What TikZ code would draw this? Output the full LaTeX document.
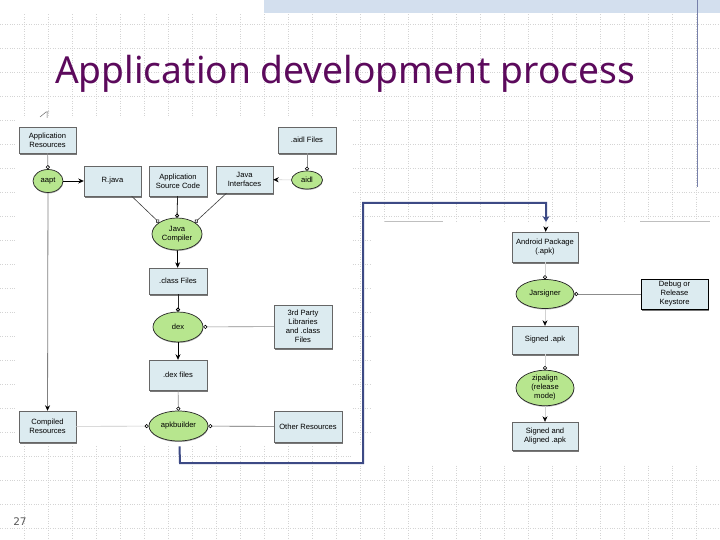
\documentclass[tikz,border=0pt]{standalone}
\usepackage{fontspec}
\setmainfont{Liberation Sans}
\newfontfamily\titlefont{Noto Sans}
\newfontfamily\pagefont{DejaVu Sans}
\usetikzlibrary{arrows.meta,shadows,shapes.geometric}
\newlength{\du}
\setlength{\du}{1pt}
\definecolor{boxfill}{HTML}{DCEBF0}
\definecolor{ovalfill}{HTML}{B7E68E}
\definecolor{titlecolor}{HTML}{5C0A5C}
\definecolor{gridcolor}{HTML}{D4D4D4}
\definecolor{bluelinecolor}{HTML}{3D4A85}
\definecolor{bandcolor}{HTML}{D3DFEE}
\tikzset{
  filebox/.style={draw=black!60,fill=boxfill,rectangle,align=center,inner sep=0pt,font=\fontsize{7.6}{9}\selectfont,
    general shadow={fill=black!75,shadow xshift=0.6pt,shadow yshift=-2pt,opacity=0.7}},
  toolnode/.style={draw=black!85,line width=0.7pt,fill=ovalfill,ellipse,align=center,inner sep=0pt,font=\fontsize{7.6}{9}\selectfont,
    general shadow={fill=black!60,shadow xshift=0.3pt,shadow yshift=-1pt,opacity=0.5}},
  feedline/.style={draw=black!45,line width=0.6pt,-{Circle[open,length=4pt,black,fill=white]}},
  makeline/.style={draw=black,line width=0.8pt,-{Stealth[length=5.5pt,width=5pt,black]}},
  fadeline/.style={draw=black!18,line width=0.6pt,-{Stealth[length=5.5pt,width=5pt,black]}}
}
\begin{document}
\begin{tikzpicture}
\pgftransformxscale{1.000000}
\pgftransformyscale{-1.000000}
\useasboundingbox (0\du,0\du) rectangle (720\du,540\du);
% background
\fill[white] (0\du,0\du) rectangle (720\du,540\du);
\foreach \gx in {24,48,...,696}
  \draw[gridcolor,dotted,line width=0.4pt] (\gx\du,0\du)--(\gx\du,540\du);
\foreach \gy in {24,48,...,528}
  \draw[gridcolor,dotted,line width=0.4pt] (0\du,\gy\du)--(720\du,\gy\du);
\fill[bandcolor] (264\du,0\du) rectangle (720\du,13\du);
\fill[white] (0\du,0\du) rectangle (264\du,13\du);
\draw[bluelinecolor!70,line width=0.7pt] (697\du,0\du)--(697\du,187\du);
% white areas of the pasted figure
\fill[white] (17\du,118\du) rectangle (352\du,445\du);
\fill[white] (372\du,222\du) rectangle (720\du,465\du);
\fill[white] (352\du,445\du) rectangle (372\du,465\du);
\draw[black!25,line width=0.8pt] (385\du,221.5\du)--(443\du,221.5\du);
\draw[black!25,line width=0.8pt] (640\du,221.5\du)--(710\du,221.5\du);
\draw[black!60,line width=0.5pt] (40\du,117\du)--(46\du,112\du)--(49\du,112\du) (47\du,112\du)--(47\du,118\du);
% title
\node[titlecolor,font=\titlefont\fontsize{37.2}{44}\selectfont,anchor=base west,inner sep=0pt] (title) at (55\du,84\du){Application development process};
\node[black!65,font=\pagefont\fontsize{10.5}{13}\selectfont] (pagenum) at (20\du,522\du){27};
% left column
\node[filebox,minimum width=57\du,minimum height=26\du] (appres) at (47.5\du,140\du){Application\\Resources};
\node[filebox,minimum width=58\du,minimum height=26\du] (aidlfiles) at (307\du,140\du){.aidl Files};
\node[toolnode,minimum width=30\du,minimum height=23\du] (aapt) at (48\du,181\du){aapt};
\node[filebox,minimum width=57\du,minimum height=30\du] (rjava) at (112.5\du,181\du){R.java};
\node[filebox,minimum width=58\du,minimum height=30\du] (appsrc) at (178\du,181\du){Application\\Source Code};
\node[filebox,minimum width=57\du,minimum height=27\du] (javaif) at (244.5\du,179.5\du){Java\\Interfaces};
\node[toolnode,minimum width=31\du,minimum height=18\du] (aidl) at (307\du,180\du){aidl};
\node[toolnode,minimum width=50\du,minimum height=32\du] (javac) at (177\du,234\du){Java\\Compiler};
\node[filebox,minimum width=58\du,minimum height=26\du] (classfiles) at (178\du,281\du){.class Files};
\node[toolnode,minimum width=50\du,minimum height=30\du] (dex) at (178\du,327\du){dex};
\node[filebox,minimum width=58\du,minimum height=43\du] (thirdparty) at (303\du,326.5\du){3rd Party\\Libraries\\and .class\\Files};
\node[filebox,minimum width=58\du,minimum height=30\du] (dexfiles) at (178\du,375\du){.dex files};
\node[toolnode,minimum width=59\du,minimum height=30\du] (apkbuilder) at (178.5\du,426\du){apkbuilder};
\node[filebox,minimum width=57\du,minimum height=31\du] (compiled) at (47.5\du,426.5\du){Compiled\\Resources};
\node[filebox,minimum width=68\du,minimum height=31\du] (otherres) at (308\du,426.5\du){Other Resources};
% right column
\node[filebox,minimum width=66\du,minimum height=30\du] (apkpkg) at (545\du,247\du){Android Package\\(.apk)};
\node[toolnode,minimum width=58\du,minimum height=29\du] (jarsigner) at (545\du,294\du){Jarsigner};
\node[filebox,draw=black,minimum width=67\du,minimum height=30\du] (keystore) at (674.5\du,294\du){Debug or\\Release\\Keystore};
\node[filebox,minimum width=66\du,minimum height=28\du] (signedapk) at (545\du,340\du){Signed .apk};
\node[toolnode,minimum width=58\du,minimum height=30\du] (zipalign) at (545\du,388\du){zipalign\\(release\\mode)};
\node[filebox,minimum width=66\du,minimum height=28\du] (alignedapk) at (545\du,436\du){Signed and\\Aligned .apk};
% connectors
\draw[feedline] (appres)--(aapt);
\draw[makeline] (aapt)--(rjava);
\draw[fadeline] (aidl)--(javaif);
\draw[feedline] (aidlfiles)--(aidl);
\draw[feedline,draw=black!75] (rjava.south east)++(-9.5\du,0\du)--(javac.north west);
\draw[feedline,draw=black!85,line width=0.8pt] (appsrc)--(javac.north);
\draw[feedline,draw=black!75] (javaif.south west)++(10.7\du,0\du)--(javac.north east);
\draw[makeline] (javac)--(classfiles);
\draw[feedline,draw=black!85,line width=0.8pt] (classfiles)--(dex);
\draw[makeline] (dex)--(dexfiles);
\draw[feedline] (thirdparty)--(dex);
\draw[feedline] (dexfiles)--(apkbuilder);
\draw[feedline,draw=black!60] (otherres)--(apkbuilder);
\draw[feedline,draw=black!22] (compiled)--(apkbuilder);
\draw[makeline,draw=black!50] (aapt)--(compiled);
\coordinate (blueA) at (180\du,463\du);
\coordinate (blueB) at (363\du,463\du);
\coordinate (blueC) at (363\du,203\du);
\coordinate (blueD) at (546\du,203\du);
\coordinate (blueE) at (546\du,222\du);
\draw[bluelinecolor,line width=2pt,-{Stealth[length=6pt,width=7pt]}] (apkbuilder.south)++(1\du,5\du)--(blueA)--(blueB)--(blueC)--(blueD)--(blueE);
\draw[fadeline] (blueE)--(apkpkg);
\draw[feedline,draw=black!18] (apkpkg)--(jarsigner);
\draw[fadeline] (jarsigner)--(signedapk);
\draw[feedline] (keystore)--(jarsigner);
\draw[feedline,draw=black!18] (signedapk)--(zipalign);
\draw[fadeline] (zipalign)--(alignedapk);
\end{tikzpicture}
\end{document}
